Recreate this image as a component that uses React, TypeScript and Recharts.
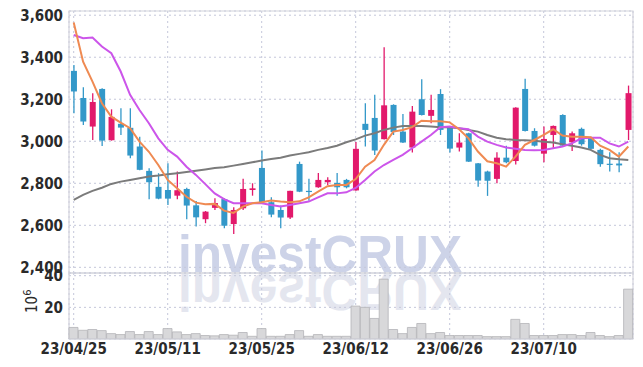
import React from 'react';
import { ComposedChart, Bar, Line, XAxis, YAxis, CartesianGrid, ReferenceArea } from 'recharts';

const dates = [
  '23/04/25','23/04/26','23/04/27','23/04/28','23/05/02','23/05/03','23/05/04','23/05/08','23/05/09','23/05/10',
  '23/05/11','23/05/12','23/05/15','23/05/16','23/05/17','23/05/18','23/05/19','23/05/22','23/05/23','23/05/24',
  '23/05/25','23/05/26','23/05/30','23/05/31','23/06/01','23/06/02','23/06/05','23/06/07','23/06/08','23/06/09',
  '23/06/12','23/06/13','23/06/14','23/06/15','23/06/16','23/06/19','23/06/20','23/06/21','23/06/22','23/06/23',
  '23/06/26','23/06/27','23/06/28','23/06/29','23/06/30','23/07/03','23/07/04','23/07/05','23/07/06','23/07/07',
  '23/07/10','23/07/11','23/07/12','23/07/13','23/07/14','23/07/17','23/07/18','23/07/19','23/07/20','23/07/21',
];

const opens = [
  3335,3206,3070,3249,3005,3083,3064,2975,2859,2783,
  2768,2741,2773,2695,2629,2683,2725,2606,2681,2768,
  2873,2710,2673,2637,2892,2764,2781,2805,2802,2816,
  2766,3083,3111,3010,3173,3046,2970,3200,3121,3225,
  3067,2970,3038,2895,2856,2821,2922,2906,3249,3049,
  2941,3030,3125,2995,3059,3017,2959,2893,2894,3054,
];
const highs = [
  3363,3257,3229,3252,3152,3157,3157,3022,2872,2848,
  2895,2856,2779,2716,2668,2729,2729,2686,2821,2800,
  2956,2733,2694,2765,2903,2821,2849,2829,2849,2821,
  2996,3181,3221,3448,3176,3130,3168,3295,3221,3248,
  3069,3038,3040,2897,2860,2948,2979,3162,3297,3062,
  3070,3075,3129,3046,3065,3022,2964,2948,2948,3265,
];
const lows = [
  3133,3078,3006,2978,3003,3030,2919,2862,2724,2724,
  2697,2724,2629,2594,2610,2673,2586,2559,2673,2741,
  2708,2638,2586,2630,2758,2717,2779,2792,2741,2776,
  2764,2975,2935,3008,3030,2992,2946,3123,3086,3030,
  2946,2951,2901,2784,2740,2800,2895,2890,3047,2975,
  2900,2963,2975,2954,2979,2962,2879,2856,2852,3006,
];
const closes = [
  3237,3094,3187,3003,3116,3065,2932,2864,2805,2727,
  2727,2767,2694,2638,2665,2706,2598,2673,2773,2776,
  2710,2651,2637,2764,2760,2760,2816,2816,2781,2781,
  2964,3054,2956,3171,3044,2994,3141,3125,3149,3054,
  2965,2994,2903,2813,2812,2922,2900,3160,3049,2979,
  3011,3073,2979,3038,2986,2964,2891,2889,2885,3229,
];
const ma5 = [
  3565,3379,3284,3181,3117,3089,3062,2998,2950,2887,
  2816,2776,2736,2708,2700,2702,2670,2659,2689,2705,
  2710,2718,2713,2710,2714,2733,2760,2786,2792,2792,
  2820,2879,2911,2983,3046,3054,3067,3098,3095,3095,
  3090,3057,3014,2951,2905,2895,2879,2927,2983,3006,
  3030,3057,3027,3022,3022,3019,2979,2959,2927,2975,
];
const ma20 = [
  3506,3490,3494,3451,3419,3332,3221,3149,3086,3014,
  2959,2927,2879,2840,2796,2752,2725,2705,2705,2705,
  2705,2697,2689,2697,2705,2713,2733,2752,2752,2757,
  2778,2816,2856,2887,2911,2935,2967,2998,3030,3067,
  3070,3062,3057,3022,2998,2983,2970,2964,2959,2957,
  2959,2967,2975,2990,3014,3017,3017,2990,2975,2998,
];
const ma60 = [
  2721,2745,2764,2779,2797,2808,2816,2824,2832,2837,
  2843,2848,2854,2860,2866,2873,2876,2884,2892,2900,
  2908,2916,2922,2932,2940,2948,2959,2968,2979,2995,
  3009,3027,3038,3054,3065,3073,3073,3073,3070,3067,
  3067,3062,3054,3046,3030,3017,3010,3006,3005,3002,
  2998,2994,2986,2979,2970,2959,2935,2919,2914,2911,
];
const volumes = [
  7.3,5.5,6.0,5.3,3.4,2.8,4.7,2.8,4.7,2.8,
  6.6,4.5,2.8,3.4,2.2,2.0,2.8,2.4,4.1,1.7,
  6.6,1.7,1.7,2.8,5.3,1.7,2.8,1.7,1.7,1.7,
  20.8,20.0,13.0,37.8,6.0,3.4,7.3,9.8,3.4,4.1,
  2.2,2.2,2.2,2.2,1.5,1.5,1.5,12.4,9.8,2.2,
  2.2,2.2,2.8,2.8,2.2,4.1,2.2,1.5,2.2,31.5,
];

const tickLabels = ['23/04/25', '23/05/11', '23/05/25', '23/06/12', '23/06/26', '23/07/10'];
const priceTicks = [2400, 2600, 2800, 3000, 3200, 3400, 3600];
const priceDomain = [2373, 3620];
const volumeTicks = [20, 40];
const volumeDomain = [0, 41.7];

const rows = dates.map((d, i) => ({
  date: d,
  range: [lows[i], highs[i]],
  open: opens[i],
  close: closes[i],
  high: highs[i],
  low: lows[i],
  ma5: ma5[i],
  ma20: ma20[i],
  ma60: ma60[i],
  volume: volumes[i],
}));

const RED = '#e2196b';
const BLUE = '#3398c9';
const FONT = "'Liberation Sans Narrow', 'DejaVu Sans Condensed', 'Roboto', sans-serif";
const TEXT = '#2a2a2a';
const GRID = '#c4c7da';
const BORDER = '#d2d3dc';

const Candle = (props: any) => {
  const { x, y, width, height, payload } = props;
  if (!payload || x == null) return null;
  const { open, close, high, low } = payload;
  const up = close >= open;
  const color = up ? RED : BLUE;
  const cx = x + width / 2;
  const yTop = Math.min(y, y + height);
  const h = Math.abs(height);
  const span = high - low;
  const toY = (v: number) => (span === 0 ? yTop : yTop + ((high - v) / span) * h);
  const yo = toY(open);
  const yc = toY(close);
  const top = Math.min(yo, yc);
  const bh = Math.max(1.2, Math.abs(yo - yc));
  const bw = 6;
  return (
    <g>
      <line x1={cx} x2={cx} y1={yTop} y2={yTop + h} stroke={color} strokeWidth={1.3} />
      <rect x={cx - bw / 2} y={top} width={bw} height={bh} fill={color} />
    </g>
  );
};

const fmt = (v: number) => v.toLocaleString('en-US');
const tickStyle = { fontFamily: FONT, fontSize: 15, fill: TEXT, fontWeight: 600 };

export default function App() {
  return (
    <div style={{ position: 'absolute', left: 0, top: 0, width: 643, height: 367, background: '#ffffff' }}>
      <svg width={643} height={367} style={{ position: 'absolute', left: 0, top: 0 }}>
        <text x={178} y={272} fontFamily="'Liberation Sans', Arial, sans-serif" fontWeight="bold" fontSize={51}
          fill="#cdd3e8" textLength={284} lengthAdjust="spacingAndGlyphs">investCRUX</text>
        <g transform="translate(0,546) scale(1,-1)">
          <text x={178} y={272} fontFamily="'Liberation Sans', Arial, sans-serif" fontWeight="bold" fontSize={51}
            fill="#e4e6ef" textLength={284} lengthAdjust="spacingAndGlyphs">investCRUX</text>
        </g>
        <text transform="translate(37,313) rotate(-90)" fontFamily={FONT} fontSize={15} fill={TEXT}>
          10<tspan dy={-6} fontSize={11}>6</tspan>
        </text>
      </svg>
      <div style={{ position: 'absolute', left: 0, top: 0 }}>
        <ComposedChart width={643} height={282} data={rows} margin={{ top: 11, right: 10, bottom: 9, left: 0 }}>
          <CartesianGrid stroke={GRID} strokeDasharray="2 3" />
          <ReferenceArea y1={priceDomain[0]} y2={priceDomain[1]} fill="none" stroke={BORDER} strokeWidth={1.2} ifOverflow="visible" />
          <XAxis dataKey="date" ticks={tickLabels} interval={0} hide />
          <YAxis domain={priceDomain} ticks={priceTicks} interval={0} width={69} tickFormatter={fmt} axisLine={false}
            tickLine={false} tickSize={0} tickMargin={6} tick={tickStyle} allowDataOverflow />
          <Bar dataKey="range" shape={<Candle />} isAnimationActive={false} />
          <Line dataKey="ma60" stroke="#7b7b7b" strokeWidth={2} dot={false} type="linear" isAnimationActive={false} />
          <Line dataKey="ma20" stroke="#cc55ea" strokeWidth={2} dot={false} type="linear" isAnimationActive={false} />
          <Line dataKey="ma5" stroke="#ef8a52" strokeWidth={2} dot={false} type="linear" isAnimationActive={false} />
        </ComposedChart>
      </div>
      <div style={{ position: 'absolute', left: 0, top: 263 }}>
        <ComposedChart width={643} height={104} data={rows} margin={{ top: 10, right: 10, bottom: 0, left: 0 }} barCategoryGap={0} barGap={0}>
          <CartesianGrid stroke={GRID} strokeDasharray="2 3" />
          <ReferenceArea y1={volumeDomain[0]} y2={volumeDomain[1]} fill="none" stroke={BORDER} strokeWidth={1.2} ifOverflow="visible" />
          <XAxis dataKey="date" ticks={tickLabels} interval={0} height={28} axisLine={{ stroke: BORDER }}
            tickLine={false} tickSize={0} tickMargin={4} tick={tickStyle} />
          <YAxis domain={volumeDomain} ticks={volumeTicks} interval={0} width={69} axisLine={false}
            tickLine={false} tickSize={0} tickMargin={6} tick={tickStyle} allowDataOverflow />
          <Bar dataKey="volume" fill="#d8d8da" stroke="#b4b4b8" strokeWidth={0.8} isAnimationActive={false} />
        </ComposedChart>
      </div>
    </div>
  );
}
